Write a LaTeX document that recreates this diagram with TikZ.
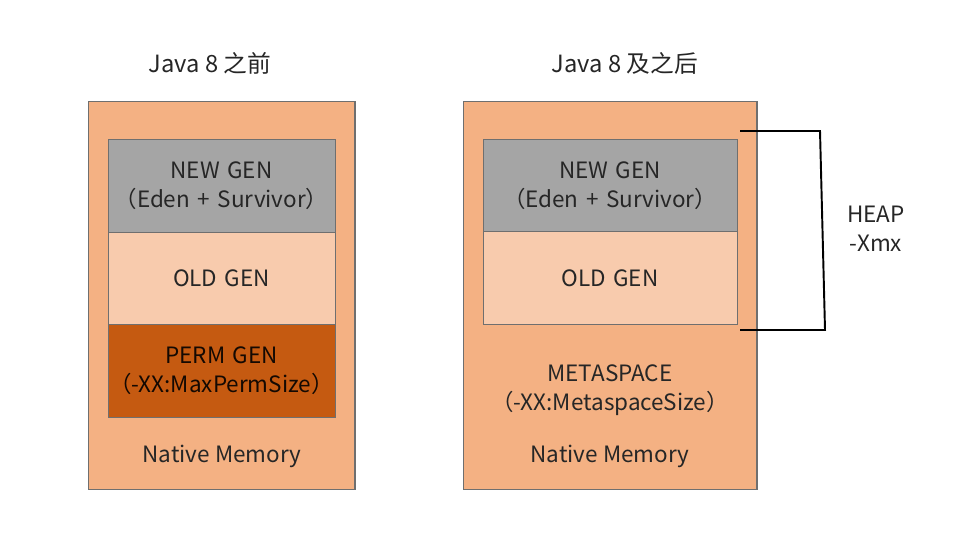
\documentclass[tikz,border=0pt]{standalone}
\usepackage{fontspec}
\setmainfont{Noto Sans CJK SC}
\usepackage{xcolor}
\definecolor{nativeC}{HTML}{F4B183}
\definecolor{oldC}{HTML}{F8CBAD}
\definecolor{newC}{HTML}{A5A5A5}
\definecolor{permC}{HTML}{C55A11}
\definecolor{edgeC}{HTML}{6F6F6F}
\definecolor{txtC}{HTML}{262626}

\begin{document}
\begin{tikzpicture}[
    x=0.02cm, y=-0.02cm,
    mem/.style     = {rectangle, draw=edgeC, line width=0.6pt, fill=nativeC,
                      minimum height=7.78cm, inner sep=0pt},
    gen/.style     = {rectangle, draw=edgeC, line width=0.5pt,
                      minimum height=1.86cm, inner sep=0pt,
                      align=center, text=txtC, font=\fontsize{12.8}{16.4}\selectfont},
    lbl/.style     = {align=center, text=txtC, font=\fontsize{12.8}{16.4}\selectfont},
    ttl/.style     = {text=black!85, font=\fontsize{13.5}{16}\selectfont},
    brace/.style   = {line width=1.1pt, black}
]
\useasboundingbox (0,0) rectangle (955,544);
% titles
\node[ttl] (t1) at (210,63) {Java 8 之前};
\node[ttl] (t2) at (625,63) {Java 8 及之后};
% before java 8
\node[mem, minimum width=5.34cm] (nm1) at (221.5,295.5) {};
\node[gen, fill=newC,  text width=4.54cm] (new1)  at (221.5,185.5) {NEW GEN\\（Eden + Survivor）};
\node[gen, fill=oldC,  text width=4.54cm] (old1)  at (221.5,278.5) {OLD GEN};
\node[gen, fill=permC, text width=4.54cm, text=black!90!permC] (perm1) at (221.5,371) {PERM GEN\\（-XX:MaxPermSize）};
\node[lbl] (nat1) at (222,456) {Native Memory};
% java 8 and later
\node[mem, minimum width=5.88cm] (nm2) at (610,295.5) {};
\node[gen, fill=newC, text width=5.08cm] (new2) at (610,185.5) {NEW GEN\\（Eden + Survivor）};
\node[gen, fill=oldC, text width=5.08cm] (old2) at (610,278) {OLD GEN};
\node[lbl] (meta2) at (610,390) {METASPACE\\（-XX:MetaspaceSize）};
\node[lbl] (nat2) at (610,456) {Native Memory};
% heap bracket
\coordinate (ht) at (740,131);
\coordinate (hb) at (740,330);
\draw[brace] (ht) -- ++(80,0) -- ++(5,199) -- (hb);
\node[lbl] (heap) at (876,229) {HEAP\\-Xmx};
\end{tikzpicture}
\end{document}
